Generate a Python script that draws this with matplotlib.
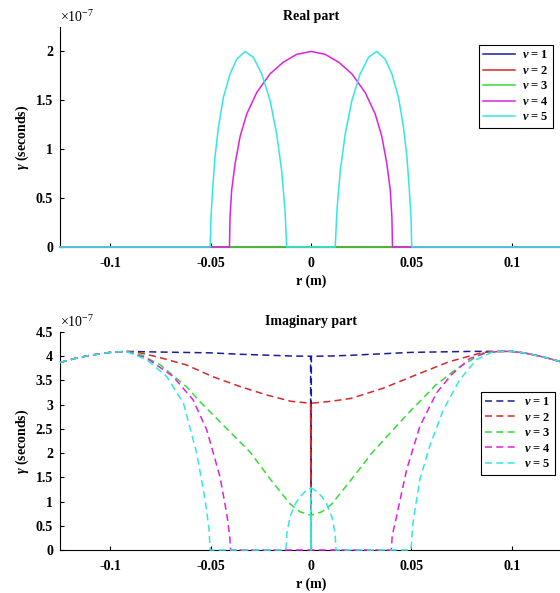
import matplotlib
matplotlib.use("Agg")
import matplotlib.pyplot as plt
from matplotlib.ticker import FuncFormatter

# values in units of 1e-7 s
NU_LABELS = [r"$\nu$ = 1", r"$\nu$ = 2", r"$\nu$ = 3", r"$\nu$ = 4", r"$\nu$ = 5"]
X_TICKS = [-0.1, -0.05, 0, 0.05, 0.1]
Y_TICKS_RE = [0, 0.5, 1, 1.5, 2]
Y_TICKS_IM = [0, 0.5, 1, 1.5, 2, 2.5, 3, 3.5, 4, 4.5]

# ---- real part ----
R_RE_FLAT = [-0.125, 0.125]
RE_FLAT = [0, 0]   # nu = 1, 2, 3

R_RE4 = [-0.125, -0.0406, -0.0403, -0.0395, -0.0378, -0.0353, -0.032, -0.027, -0.0204,
         -0.0138, -0.0071, 0, 0.0071, 0.0138, 0.0204, 0.027, 0.032, 0.0353, 0.0378,
         0.0395, 0.0403, 0.0406, 0.125]
RE4 = [0, 0, 0.31, 0.58, 0.85, 1.13, 1.36, 1.58, 1.77,
       1.89, 1.97, 2.00, 1.97, 1.89, 1.77, 1.58, 1.36, 1.13, 0.85,
       0.58, 0.31, 0, 0]

R_RE5 = [-0.125, -0.0502, -0.0498, -0.0489, -0.0478, -0.0461, -0.0436, -0.0403, -0.037,
         -0.0328, -0.0287, -0.0245, -0.0204, -0.0171, -0.0146, -0.0129, -0.0121,
         0.0121, 0.0129, 0.0146, 0.0171, 0.0204, 0.0245, 0.0287, 0.0328, 0.037,
         0.0403, 0.0436, 0.0461, 0.0478, 0.0489, 0.0498, 0.0502, 0.125]
RE5 = [0, 0, 0.31, 0.61, 0.92, 1.22, 1.53, 1.77, 1.92,
       2.00, 1.94, 1.77, 1.50, 1.16, 0.78, 0.37, 0,
       0, 0.37, 0.78, 1.16, 1.50, 1.77, 1.94, 2.00, 1.92,
       1.77, 1.53, 1.22, 0.92, 0.61, 0.31, 0, 0]

# ---- imaginary part ----
R_IM1 = [-0.125, -0.118, -0.11, -0.1, -0.092, -0.08, -0.065, -0.05, -0.035, -0.02, -0.01,
         -0.0002, 0, 0.0002, 0.01, 0.02, 0.035, 0.05, 0.065, 0.08, 0.092, 0.1, 0.106,
         0.112, 0.118, 0.125]
IM1 = [3.87, 3.95, 4.02, 4.08, 4.10, 4.09, 4.08, 4.07, 4.04, 4.02, 4.005,
       4.0, 0, 4.0, 4.005, 4.02, 4.05, 4.08, 4.09, 4.10, 4.10, 4.10, 4.07,
       4.02, 3.96, 3.88]

R_IM2 = [-0.125, -0.118, -0.11, -0.1, -0.092, -0.085, -0.075, -0.062, -0.049, -0.035, -0.022,
         -0.01, -0.0002, 0, 0.0002, 0.01, 0.02, 0.036, 0.0526, 0.069, 0.0857, 0.095, 0.1,
         0.106, 0.112, 0.118, 0.125]
IM2 = [3.87, 3.95, 4.02, 4.08, 4.10, 4.07, 3.97, 3.82, 3.58, 3.37, 3.20,
       3.07, 3.03, 0, 3.03, 3.07, 3.13, 3.34, 3.62, 3.89, 4.08, 4.10, 4.10,
       4.07, 4.02, 3.96, 3.88]

R_IM3 = [-0.125, -0.118, -0.11, -0.1, -0.092, -0.085, -0.075, -0.062, -0.055, -0.049, -0.0303,
         -0.02, -0.0104, -0.0055, -0.0002, 0, 0.0002, 0.0055, 0.0104, 0.02, 0.0303, 0.049,
         0.055, 0.062, 0.0725, 0.0857, 0.095, 0.1, 0.106, 0.112, 0.118, 0.125]
IM3 = [3.87, 3.95, 4.02, 4.08, 4.10, 4.04, 3.82, 3.37, 3.05, 2.80, 2.02,
       1.45, 0.95, 0.79, 0.72, 0, 0.72, 0.79, 0.95, 1.45, 2.00, 2.85,
       3.10, 3.40, 3.74, 4.07, 4.10, 4.10, 4.07, 4.02, 3.96, 3.88]

R_IM4 = [-0.125, -0.118, -0.11, -0.1, -0.092, -0.0818, -0.0686, -0.0587, -0.0519, -0.0453,
         -0.042, -0.0405, -0.040, 0.040, 0.0405, 0.0426, 0.0476, 0.0542, 0.0625, 0.07,
         0.079, 0.088, 0.095, 0.1, 0.106, 0.112, 0.118, 0.125]
IM4 = [3.87, 3.95, 4.02, 4.08, 4.10, 3.96, 3.58, 3.10, 2.48, 1.51,
       0.76, 0.30, 0, 0, 0.30, 0.69, 1.65, 2.55, 3.24, 3.62,
       3.95, 4.08, 4.10, 4.10, 4.07, 4.02, 3.96, 3.88]

R_IM5 = [-0.125, -0.118, -0.11, -0.1, -0.092, -0.0818, -0.0718, -0.0635, -0.0569, -0.0527,
         -0.0508, -0.0502, -0.0125, -0.012, -0.0104, -0.0078, -0.0055, -0.0025, -0.0002, 0,
         0.0002, 0.0025, 0.0055, 0.0078, 0.0104, 0.012, 0.0125, 0.0498, 0.0504, 0.051,
         0.0542, 0.059, 0.0659, 0.074, 0.0824, 0.09, 0.095, 0.1, 0.106, 0.112, 0.118, 0.125]
IM5 = [3.87, 3.95, 4.02, 4.08, 4.10, 3.93, 3.58, 3.03, 2.00, 1.03,
       0.45, 0, 0, 0.35, 0.69, 0.95, 1.10, 1.22, 1.28, 0,
       1.28, 1.22, 1.10, 0.95, 0.69, 0.35, 0, 0, 0.35, 0.62,
       1.45, 2.13, 2.89, 3.51, 3.93, 4.08, 4.10, 4.10, 4.07, 4.02, 3.96, 3.88]

COLORS = ["#1c1c9a", "#d42a2a", "#33dd33", "#dd22dd", "#33e6e6"]

plt.rcParams.update({
    "font.family": "Liberation Serif",
    "font.weight": "bold",
    "font.size": 10,
    "axes.unicode_minus": False,
    "mathtext.fontset": "custom",
    "mathtext.rm": "Liberation Serif:bold",
    "mathtext.it": "Liberation Serif:italic:bold",
    "mathtext.bf": "Liberation Serif:bold",
    "axes.linewidth": 0.8,
    "xtick.direction": "in",
    "ytick.direction": "in",
})


def style_axes(ax, yticks, ymax, title):
    ax.set_xlim(-0.125, 0.125)
    ax.set_ylim(0, ymax)
    ax.set_xticks(X_TICKS)
    ax.set_yticks(yticks)
    ax.xaxis.set_major_formatter(FuncFormatter(lambda v, p: "%g" % v))
    ax.yaxis.set_major_formatter(FuncFormatter(lambda v, p: "%g" % v))
    ax.tick_params(axis="x", length=3, width=0.8, pad=7)
    ax.tick_params(axis="y", length=3, width=0.8, pad=5)
    ax.spines["top"].set_visible(False)
    ax.spines["right"].set_visible(False)
    ax.set_title(title, fontsize=10, fontweight="bold", pad=5)
    ax.set_xlabel("r (m)", fontsize=10, fontweight="bold")
    ax.set_ylabel(r"$\gamma$ (seconds)", fontsize=10, fontweight="bold")
    ax.xaxis.set_label_coords(0.5, -0.125)
    ax.yaxis.set_label_coords(-0.058, 0.5)
    ax.text(0.0, 1.01, r"$\mathregular{\times 10^{-7}}$", transform=ax.transAxes,
            ha="left", va="bottom", fontsize=10, fontweight="normal")


fig = plt.figure(figsize=(5.6, 5.93), dpi=100)
ax1 = fig.add_axes([0.1071, 0.5835, 0.8964, 0.371])
ax2 = fig.add_axes([0.1071, 0.0725, 0.8964, 0.3676])

re_r = [R_RE_FLAT, R_RE_FLAT, R_RE_FLAT, R_RE4, R_RE5]
re_v = [RE_FLAT, RE_FLAT, RE_FLAT, RE4, RE5]
for r, v, c, lab in zip(re_r, re_v, COLORS, NU_LABELS):
    ax1.plot(r, v, color=c, lw=1.1, label=lab, clip_on=False, zorder=3)

im_r = [R_IM1, R_IM2, R_IM3, R_IM4, R_IM5]
im_v = [IM1, IM2, IM3, IM4, IM5]
for r, v, c, lab in zip(im_r, im_v, COLORS, NU_LABELS):
    ax2.plot(r, v, color=c, lw=1.1, ls=(0, (4.6, 2.8)), label=lab, clip_on=False, zorder=3)

style_axes(ax1, Y_TICKS_RE, 2.25, "Real part")
style_axes(ax2, Y_TICKS_IM, 4.5, "Imaginary part")

for ax, anchor in ((ax1, (0.9875, 0.924)), (ax2, (0.991, 0.339))):
    leg = ax.legend(loc="upper right", bbox_to_anchor=anchor, bbox_transform=fig.transFigure,
                    fontsize=9, frameon=True, fancybox=False, framealpha=1.0,
                    edgecolor="black", handlelength=2.6, handletextpad=0.5,
                    labelspacing=0.28, borderpad=0.35, borderaxespad=0)
    leg.get_frame().set_linewidth(0.8)
    leg.set_zorder(5)

fig.savefig("out.png", dpi=100, facecolor="white")
